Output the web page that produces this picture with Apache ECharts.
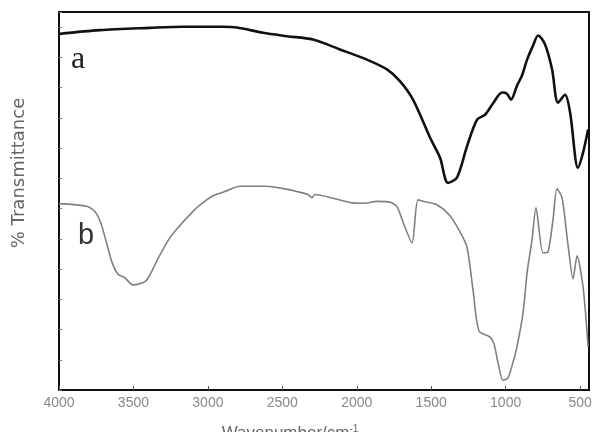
<!DOCTYPE html>
<html>
<head>
<meta charset="utf-8">
<script src="https://cdn.jsdelivr.net/npm/echarts@6/dist/echarts.min.js"></script>
<style>html,body{margin:0;padding:0;background:#fff}#c{width:595px;height:432px}</style>
</head>
<body>
<div id="c"></div>
<script>
// Wavenumber (cm-1) and % transmittance (arbitrary scale, 0 bottom - 100 top)
const waveA = [4000,3726,3390,3168,2899,2805,2630,2469,2294,2113,1932,1797,1710,1622,1508,1441,1387,1327,1260,1192,1139,1085,1024,991,964,924,890,856,816,782,735,688,648,601,567,514,480,446];
const transA = [94.2,95.2,95.8,96.1,96.1,95.9,94.5,93.6,92.7,90.1,87.4,84.8,81.7,76.8,66.8,61.5,54.8,56.2,64.4,71.5,72.8,75.8,78.7,78.4,76.8,80.5,83.2,87.4,91.1,93.8,91.4,84.8,76.0,78.1,73.4,58.8,62.8,68.9];
const waveB = [4000,3813,3759,3719,3686,3645,3605,3558,3504,3457,3410,3329,3255,3195,3121,3061,2966,2886,2785,2604,2483,2402,2328,2301,2281,2147,2026,1945,1864,1777,1730,1690,1629,1589,1542,1461,1374,1307,1260,1219,1179,1105,1078,1051,1018,984,950,924,883,856,823,796,749,715,682,655,621,581,547,520,480,446];
const transB = [49.3,48.6,47.2,44.2,39.7,33.9,30.7,29.7,27.8,28.1,29.1,35.2,40.3,43.2,46.4,48.7,51.4,52.5,53.9,53.9,53.2,52.5,51.7,50.9,51.7,50.6,49.5,49.4,49.9,49.7,48.5,44.5,38.9,50.3,49.8,49.0,46.1,41.9,37.9,26.5,15.6,14.0,12.2,7.2,2.6,3.2,7.4,11.4,20.4,31.0,39.7,48.2,36.3,36.6,45.0,53.2,50.9,38.4,29.4,35.5,27.3,11.4];
const xTicks = [4000,3500,3000,2500,2000,1500,1000,500];
const seriesLabels = ['a','b'];

const chart = echarts.init(document.getElementById('c'), null, {renderer:'canvas'});
const pairs = (xs, ys) => xs.map((x,i)=>[x, ys[i]]);
chart.setOption({
  animation:false,
  backgroundColor:'#fff',
  grid:{left:59,top:12,width:530,height:378,show:true,borderColor:'#111',borderWidth:2,backgroundColor:'transparent'},
  xAxis:{type:'value',inverse:true,min:440,max:4000,
    axisLine:{show:true,lineStyle:{color:'#111',width:2}},
    axisTick:{show:true,inside:true,length:4,customValues:xTicks,lineStyle:{color:'#555'}},
    axisLabel:{customValues:xTicks,formatter:v=>String(v),color:'#888',fontSize:14,margin:6,fontFamily:'Liberation Sans'},
    splitLine:{show:false}},
  yAxis:{type:'value',min:0,max:100,interval:8,
    axisLine:{show:true,lineStyle:{color:'#111',width:2}},
    axisTick:{show:true,inside:true,length:3,lineStyle:{color:'#777'}},
    axisLabel:{show:false},splitLine:{show:false}},
  series:[
    {type:'line',name:seriesLabels[0],data:pairs(waveA,transA),showSymbol:false,smooth:0.3,lineStyle:{color:'#111',width:2.6}},
    {type:'line',name:seriesLabels[1],data:pairs(waveB,transB),showSymbol:false,smooth:0.25,lineStyle:{color:'#808080',width:1.6}}
  ],
  graphic:[
    {type:'text',left:71,top:44,style:{text:seriesLabels[0],font:'32px "Liberation Serif"',fill:'#222'}},
    {type:'text',left:78,top:221,style:{text:seriesLabels[1],font:'29px "Liberation Sans"',fill:'#333'}},
    {type:'text',x:19,y:173,rotation:Math.PI/2,style:{text:'% Transmittance',font:'18px "DejaVu Sans"',fill:'#666',align:'center',verticalAlign:'middle'}},
    {type:'text',x:290,y:424,style:{text:'Wavenumber/cm{s|-1}',rich:{s:{fontSize:10,verticalAlign:'top',fill:'#666',padding:[0,0,8,0]}},font:'17px "Liberation Sans"',fill:'#666',align:'center',verticalAlign:'top'}}
  ]
});
</script>
</body>
</html>
